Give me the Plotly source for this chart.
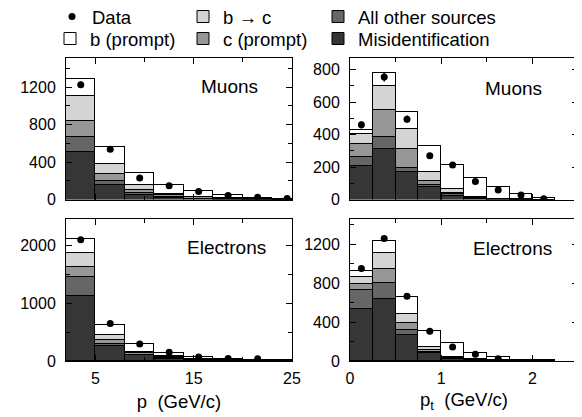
import plotly.graph_objects as go

# ---------------- data ----------------
p_edges = [2, 5, 8, 11, 14, 17, 20, 23, 26]
pt_edges = [0, 0.25, 0.5, 0.75, 1.0, 1.25, 1.5, 1.75, 2.0, 2.25]

# Muons vs p
mu_p_misid = [515, 160, 50, 17, 10, 5, 2, 1]
mu_p_other = [154, 40, 20, 10, 5, 3, 1, 0.5]
mu_p_cprompt = [179, 75, 42, 25, 12, 6, 3, 1]
mu_p_b2c = [259, 110, 45, 16, 10, 5, 3, 1]
mu_p_bprompt = [183, 178, 130, 95, 63, 31, 16, 6]
mu_p_data = [1225, 535, 230, 148, 86, 42, 25, 10]
mu_p_err = [35, 23, 15, 12, 9, 6, 5, 3]

# Muons vs pt
mu_pt_misid = [210, 315, 170, 78, 25, 8, 3, 1, 0.5]
mu_pt_other = [55, 71, 26, 15, 10, 3, 1, 0.5, 0.2]
mu_pt_cprompt = [80, 168, 118, 25, 10, 5, 2, 1, 0.3]
mu_pt_b2c = [62, 151, 123, 57, 22, 5, 2, 1, 0.5]
mu_pt_bprompt = [26, 80, 108, 155, 146, 117, 74, 31.5, 8.5]
mu_pt_data = [460, 755, 495, 270, 212, 111, 58, 27, 4]
mu_pt_err = [22, 28, 22, 17, 15, 11, 8, 5, 2]

# Electrons vs p
el_p_misid = [1125, 255, 95, 40, 15, 8, 4, 2]
el_p_other = [325, 45, 15, 10, 5, 3, 2, 1]
el_p_cprompt = [180, 58, 20, 15, 8, 5, 3, 1]
el_p_b2c = [235, 90, 30, 15, 7, 4, 3, 1]
el_p_bprompt = [240, 178, 125, 60, 30, 20, 13, 5]
el_p_data = [2090, 648, 295, 150, 70, 45, 40, None]
el_p_err = [46, 25, 17, 12, 8, 7, 6, None]

# Electrons vs pt
el_pt_misid = [535, 640, 268, 85, 20, 8, 3, 1, 0.5]
el_pt_other = [195, 162, 50, 10, 5, 2, 1, 0.5, 0.3]
el_pt_cprompt = [60, 148, 68, 18, 8, 4, 2, 0.5, 0.2]
el_pt_b2c = [70, 156, 102, 34, 10, 5, 2, 1, 0.5]
el_pt_bprompt = [68, 128, 166, 166, 137, 66, 34, 12, 6.5]
el_pt_data = [950, 1260, 667, 305, 145, 70, 22, None, None]
el_pt_err = [31, 36, 26, 17, 12, 8, 5, None, None]

component_names = ["Misidentification", "All other sources", "c (prompt)", "b \u2192 c", "b (prompt)"]
component_colors = ["#363636", "#666666", "#979797", "#d4d4d4", "#ffffff"]
component_legends = ["legend6", "legend3", "legend5", "legend2", "legend4"]

panels = [
    ("x", "y", p_edges, [mu_p_misid, mu_p_other, mu_p_cprompt, mu_p_b2c, mu_p_bprompt], mu_p_data, mu_p_err, True),
    ("x2", "y2", pt_edges, [mu_pt_misid, mu_pt_other, mu_pt_cprompt, mu_pt_b2c, mu_pt_bprompt], mu_pt_data, mu_pt_err, False),
    ("x3", "y3", p_edges, [el_p_misid, el_p_other, el_p_cprompt, el_p_b2c, el_p_bprompt], el_p_data, el_p_err, False),
    ("x4", "y4", pt_edges, [el_pt_misid, el_pt_other, el_pt_cprompt, el_pt_b2c, el_pt_bprompt], el_pt_data, el_pt_err, False),
]

fig = go.Figure()
for xa, ya, edges, comps, data, err, show in panels:
    centers = [(a + b) / 2 for a, b in zip(edges[:-1], edges[1:])]
    widths = [b - a for a, b in zip(edges[:-1], edges[1:])]
    for vals, name, col, lg in zip(comps, component_names, component_colors, component_legends):
        fig.add_trace(go.Bar(
            x=centers, y=vals, width=widths, xaxis=xa, yaxis=ya,
            name=name, legend=lg, showlegend=show,
            marker=dict(color=col, line=dict(color="black", width=1)),
        ))
    fig.add_trace(go.Scatter(
        x=centers[:len(data)], y=data, xaxis=xa, yaxis=ya, mode="markers",
        name="Data", legend="legend", showlegend=show,
        marker=dict(color="black", size=7),
        error_y=dict(type="data", array=err, color="black", thickness=1.5, width=0),
    ))

# The page body adds an 8px margin, so the figure is drawn 8px smaller and
# all layout positions (given in window pixels) are shifted by that offset.
WIN_W, WIN_H = 582, 417
OFF = 8
W, H = WIN_W - OFF, WIN_H - OFF
FONT = "Liberation Sans, Arial, sans-serif"


def px_x(x):
    return (x - OFF) / W


def px_y(y):
    return 1 - (y - OFF) / H


def xd(a, b):
    return [px_x(a), px_x(b)]


def yd(top, bottom):
    return [px_y(bottom), px_y(top)]


tickfont = dict(family=FONT, size=16, color="black")
common = dict(showline=True, linecolor="black", linewidth=1, mirror="ticks", ticks="inside",
              ticklen=6, tickcolor="black", tickwidth=1, showgrid=False, zeroline=False,
              tickfont=tickfont)
minor_common = dict(ticks="inside", ticklen=4, tickcolor="black", tickwidth=1, showgrid=False)

title_font = dict(family=FONT, size=18.5, color="black")
legend_common = dict(orientation="v", xanchor="left", yanchor="middle",
                     itemwidth=30, bgcolor="rgba(0,0,0,0)",
                     font=dict(family=FONT, size=18.5, color="black"))

# legend slots: (text start x px, text center y px) in window pixels
legend_slots = {
    "legend": (92, 17), "legend2": (223, 17), "legend3": (358, 17),
    "legend4": (90, 39), "legend5": (223, 39), "legend6": (358, 39),
}
legend_layout = {k: dict(x=px_x(tx - 40), y=px_y(ty), **legend_common)
                 for k, (tx, ty) in legend_slots.items()}

fig.update_layout(
    width=W, height=H,
    margin=dict(l=0, r=0, t=0, b=0, autoexpand=False),
    paper_bgcolor="white", plot_bgcolor="white",
    barmode="stack", bargap=0,
    font=dict(family=FONT, color="black"),
    xaxis=dict(domain=xd(66, 292), range=[2, 25], tick0=5, dtick=10, showticklabels=False,
               minor=dict(dtick=5, **minor_common), anchor="y", **common),
    xaxis2=dict(domain=xd(350, 578), range=[0, 2.5], tick0=0, dtick=1, showticklabels=False,
                minor=dict(dtick=0.5, **minor_common), anchor="y2", **common),
    xaxis3=dict(domain=xd(66, 292), range=[2, 25], tick0=5, dtick=10,
                minor=dict(dtick=5, **minor_common), anchor="y3", ticklabelstandoff=3,
                title=dict(text="p  (GeV/c)", font=title_font, standoff=8), **common),
    xaxis4=dict(domain=xd(350, 578), range=[0, 2.5], tick0=0, dtick=1,
                minor=dict(dtick=0.5, **minor_common), anchor="y4", ticklabelstandoff=3,
                title=dict(text="p<sub>t</sub>  (GeV/c)", font=title_font, standoff=6), **common),
    yaxis=dict(domain=yd(57.5, 199.5), range=[0, 1515], dtick=400, ticklabelstandoff=6,
               minor=dict(dtick=200, **minor_common), anchor="x", **common),
    yaxis2=dict(domain=yd(57.5, 199.5), range=[0, 875], dtick=200, ticklabelstandoff=6,
                minor=dict(dtick=100, **minor_common), anchor="x2", **common),
    yaxis3=dict(domain=yd(219, 361), range=[0, 2450], dtick=1000, ticklabelstandoff=6,
                minor=dict(dtick=500, **minor_common), anchor="x3", **common),
    yaxis4=dict(domain=yd(219, 361), range=[0, 1460], dtick=400, ticklabelstandoff=6,
                minor=dict(dtick=200, **minor_common), anchor="x4", **common),
    **legend_layout,
)

ann_font = dict(family=FONT, size=19, color="black")
for text, px, py in [("Muons", 229, 87), ("Muons", 513, 88), ("Electrons", 226, 247), ("Electrons", 512, 248)]:
    fig.add_annotation(text=text, x=px_x(px), y=px_y(py), xref="paper", yref="paper",
                       showarrow=False, font=ann_font, xanchor="center", yanchor="middle")

fig.write_html("out.html")
